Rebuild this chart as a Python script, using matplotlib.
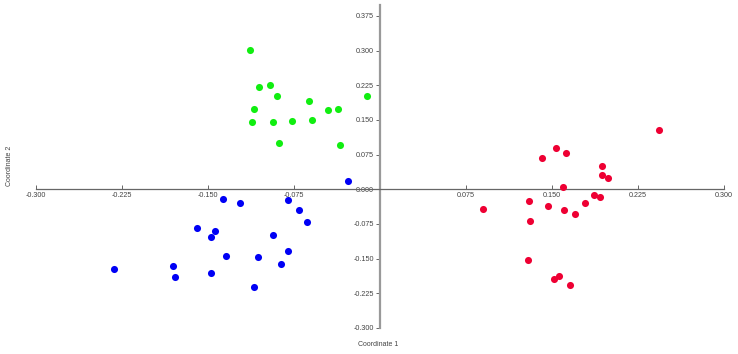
import matplotlib
matplotlib.use("Agg")
import matplotlib.pyplot as plt

plt.rcParams['font.family'] = ['Liberation Sans', 'DejaVu Sans']

green_x = [-0.1134, -0.1055, -0.0962, -0.0901, -0.1101, -0.1114, -0.0936, -0.0770,
           -0.0878, -0.0619, -0.0590, -0.0456, -0.0369, -0.0351, -0.0116]
green_y = [0.3007, 0.2213, 0.2257, 0.2012, 0.1737, 0.1463, 0.1456, 0.1471,
           0.1002, 0.1917, 0.1499, 0.1716, 0.1731, 0.0965, 0.2012]

blue_x = [-0.0282, -0.1372, -0.1218, -0.0800, -0.0706, -0.0637, -0.1599, -0.1439,
          -0.1474, -0.0930, -0.0802, -0.1346, -0.1067, -0.0861, -0.2317, -0.1808,
          -0.1785, -0.1477, -0.1101]
blue_y = [0.0186, -0.0210, -0.0303, -0.0232, -0.0441, -0.0700, -0.0837, -0.0902,
          -0.1025, -0.0989, -0.1328, -0.1443, -0.1458, -0.1609, -0.1731, -0.1659,
          -0.1891, -0.1817, -0.2120]

red_x = [0.2430, 0.1538, 0.1619, 0.1413, 0.1933, 0.1939, 0.1991, 0.1596, 0.1863,
         0.1919, 0.1785, 0.1302, 0.1462, 0.1602, 0.1698, 0.0895, 0.1311, 0.1291,
         0.1561, 0.1517, 0.1657]
red_y = [0.1276, 0.0900, 0.0785, 0.0671, 0.0504, 0.0309, 0.0244, 0.0050, -0.0116,
         -0.0159, -0.0296, -0.0253, -0.0368, -0.0455, -0.0527, -0.0433, -0.0679,
         -0.1530, -0.1876, -0.1947, -0.2064]

x_ticks = [-0.300, -0.225, -0.150, -0.075, 0.075, 0.150, 0.225, 0.300]
x_tick_labels = ["-0.300", "-0.225", "-0.150", "-0.075", "0.075", "0.150", "0.225", "0.300"]
y_ticks = [0.375, 0.300, 0.225, 0.150, 0.075, 0.000, -0.075, -0.150, -0.225, -0.300]
y_tick_labels = ["0.375", "0.300", "0.225", "0.150", "0.075", "0.000",
                 "-0.075", "-0.150", "-0.225", "-0.300"]

fig = plt.figure(figsize=(7.38, 3.54), dpi=100)
ax = fig.add_axes([0, 0, 1, 1])
ax.set_xlim(-0.3314, 0.3122)
ax.set_ylim(-0.3563, 0.4096)

ax.scatter(green_x, green_y, s=26, color='#11ee11', linewidths=0, zorder=3)
ax.scatter(blue_x, blue_y, s=26, color='#0000f5', linewidths=0, zorder=3)
ax.scatter(red_x, red_y, s=26, color='#ee0033', linewidths=0, zorder=3)

for s in ['top', 'right']:
    ax.spines[s].set_visible(False)
ax.spines['left'].set_position(('data', 0))
ax.spines['bottom'].set_position(('data', 0))
ax.spines['left'].set_bounds(-0.300, 0.399)
ax.spines['bottom'].set_bounds(-0.300, 0.300)
ax.spines['left'].set_color('#999999')
ax.spines['left'].set_linewidth(1.6)
ax.spines['bottom'].set_color('#666666')
ax.spines['bottom'].set_linewidth(0.9)

ax.set_xticks(x_ticks)
ax.set_xticklabels(x_tick_labels)
ax.set_yticks(y_ticks)
ax.set_yticklabels(y_tick_labels)
ax.tick_params(axis='x', direction='in', length=3, width=0.7, color='#666666',
               labelsize=5.2, labelcolor='#444444', pad=2)
ax.tick_params(axis='y', direction='out', length=3, width=0.7, color='#666666',
               labelsize=5.2, labelcolor='#444444', pad=1.5)

fig.text(378 / 738, 1 - 344 / 354, "Coordinate 1", ha='center', va='center',
         fontsize=5, color='#444444')
fig.text(10 / 738, 1 - 166 / 354, "Coordinate 2", ha='center', va='center',
         rotation=90, fontsize=5, color='#444444')

fig.savefig("out.png", dpi=100)
